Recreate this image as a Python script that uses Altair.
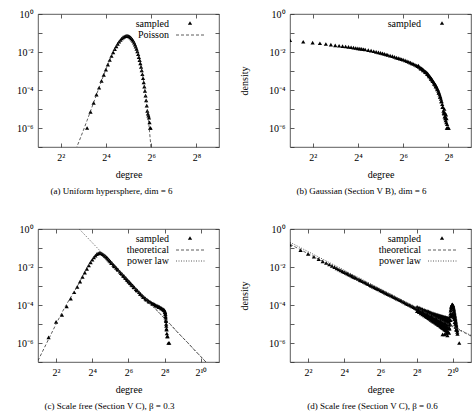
import altair as alt
import pandas as pd

FONT = "Liberation Serif"
W, H = 181, 133

# ---------------- (a) Uniform hypersphere ----------------
A_LINE_DEG = list(range(6, 66))
A_LINE_LOGP = [-7.37, -6.73, -6.14, -5.60, -5.11, -4.66, -4.25, -3.87, -3.52, -3.21,
               -2.92, -2.66, -2.43, -2.21, -2.02, -1.85, -1.70, -1.57, -1.46, -1.37,
               -1.29, -1.23, -1.19, -1.16, -1.15, -1.15, -1.16, -1.19, -1.23, -1.28,
               -1.35, -1.42, -1.51, -1.61, -1.72, -1.84, -1.97, -2.12, -2.27, -2.43,
               -2.60, -2.78, -2.97, -3.17, -3.38, -3.60, -3.82, -4.05, -4.29, -4.54,
               -4.80, -5.06, -5.34, -5.62, -5.90, -6.20, -6.50, -6.81, -7.12, -7.44]
A_SAMP_DEG = list(range(9, 64))
A_SAMP_LOGP = [-6.00, -5.15, -4.68, -4.24, -3.88, -3.52, -3.20,
               -2.93, -2.66, -2.42, -2.21, -2.02, -1.85, -1.70, -1.57, -1.46, -1.37,
               -1.29, -1.23, -1.19, -1.16, -1.15, -1.15, -1.16, -1.19, -1.23, -1.28,
               -1.35, -1.42, -1.51, -1.61, -1.72, -1.84, -1.97, -2.12, -2.27, -2.43,
               -2.60, -2.78, -2.97, -3.17, -3.38, -3.60, -3.82, -4.05, -4.30, -4.55,
               -4.82, -5.10, -5.25, -5.35, -5.45, -5.70, -6.00, -6.00]

# ---------------- (b) Gaussian ----------------
B_DEG = [2, 3, 4, 5, 6, 7, 8, 9, 10, 11, 12, 13, 14, 15, 16, 17, 18, 19, 20,
         22, 24, 26, 28, 30, 32, 34, 36, 38, 40,
         43, 46, 49, 52, 55, 58, 61, 64,
         68, 72, 76, 80, 84, 88, 92, 96, 100,
         104, 108, 112, 116, 120, 124, 128, 132, 136, 140, 144, 148, 152, 156, 160,
         164, 168, 172, 176, 180, 184, 188, 192, 196, 200, 204, 208, 212, 216, 220,
         224, 228, 232, 236, 240, 246, 252, 258]
B_LOGP = [-1.38, -1.46, -1.51, -1.54, -1.58, -1.61, -1.65, -1.67, -1.69, -1.71, -1.73, -1.75,
          -1.77, -1.79, -1.81, -1.82, -1.84, -1.855, -1.87,
          -1.90, -1.93, -1.96, -1.99, -2.02, -2.05, -2.07, -2.10, -2.13, -2.15,
          -2.19, -2.22, -2.26, -2.30, -2.32, -2.35, -2.38, -2.40,
          -2.44, -2.48, -2.52, -2.56, -2.60, -2.63, -2.67, -2.71, -2.75,
          -2.78, -2.82, -2.86, -2.90, -2.95, -3.00, -3.04, -3.09, -3.14, -3.22, -3.27, -3.34,
          -3.40, -3.47, -3.54, -3.60, -3.67, -3.73, -3.80, -3.88, -3.96, -4.05, -4.14, -4.24,
          -4.35, -4.47, -4.60, -4.75, -4.90, -5.10, -5.25, -5.40, -5.50, -5.60, -5.70,
          -5.80, -6.00, -6.00]
B_EXTRA_DEG = [102, 110, 118, 126, 134, 142, 150, 158, 166, 174, 182, 190, 198, 206, 214,
               222, 226, 230, 234, 238, 242, 244, 248, 256]
B_EXTRA_LOGP = [-2.72, -2.88, -2.97, -3.06, -3.16, -3.29, -3.41, -3.54, -3.68, -3.82, -3.97,
                -4.15, -4.37, -4.60, -4.90, -5.20, -5.00, -5.20, -5.40, -5.30, -5.50, -6.00,
                -6.00, -6.00]

# ---------------- (c) Scale free, beta = 0.3 ----------------
C_THEO_DEG = [2, 3, 4, 5, 6, 7, 8, 9, 10, 11, 12, 13, 14, 15, 16, 17, 18, 19, 20, 21, 22, 23, 24,
              26, 28, 32, 40, 48, 56, 64, 80, 96, 112, 128,
              160, 200, 256, 320, 400, 512, 640, 800, 1024, 1300]
C_THEO_LOGP = [-6.93, -5.80, -5.00, -4.40, -3.95, -3.60, -3.30, -3.02, -2.75, -2.50, -2.27,
               -2.05, -1.86, -1.70, -1.57, -1.46, -1.37, -1.31, -1.27, -1.25, -1.26, -1.28, -1.32,
               -1.41, -1.51, -1.72, -2.05, -2.30, -2.55, -2.78, -3.10, -3.35, -3.55, -3.72,
               -4.05, -4.35, -4.72, -5.02, -5.37, -5.72, -6.03, -6.37, -6.72, -7.07]
C_POW_DEG = [9.7, 1243]
C_POW_LOGP = [0.0, -7.0]
C_SAMP_DEG = [3, 4, 5, 6, 7, 8, 9, 10, 11, 12, 13, 14, 15, 16, 17, 18, 19, 20, 21, 22, 23, 24,
              25, 26, 27, 28, 29, 30, 31, 32, 34, 36, 38, 40,
              43, 46, 50, 54, 58, 62, 66, 70,
              75, 80, 85, 90, 96, 102, 108, 115, 122, 130, 138, 146, 155, 164, 173, 182, 191, 200,
              210, 220, 230, 240, 250, 256, 260, 263, 266, 269, 272, 275, 278, 282, 286, 295, 305]
C_SAMP_LOGP = [-5.70, -4.89, -4.52, -4.07, -3.66, -3.33, -3.05, -2.77, -2.52, -2.30, -2.10,
               -1.92, -1.76, -1.62, -1.50, -1.40, -1.32, -1.28, -1.26, -1.27, -1.29, -1.33,
               -1.37, -1.41, -1.46, -1.51, -1.56, -1.61, -1.66, -1.71, -1.80, -1.89, -1.97, -2.05,
               -2.15, -2.25, -2.37, -2.48, -2.59, -2.69, -2.78, -2.87,
               -2.97, -3.07, -3.16, -3.24, -3.33, -3.42, -3.50, -3.58, -3.65, -3.72, -3.78, -3.83,
               -3.88, -3.92, -3.96, -4.00, -4.03, -4.07,
               -4.10, -4.14, -4.18, -4.22, -4.26, -4.30, -4.38, -4.50, -4.66, -4.85, -5.10, -5.30,
               -5.50, -5.65, -5.65, -6.00, -6.00]
C_EXTRA_DEG = [33, 37, 42, 48, 52, 56, 60, 64, 68, 72, 78, 88, 100, 112, 125, 140, 160, 180,
               205, 225, 245, 258, 262, 265, 268, 271, 274]
C_EXTRA_LOGP = [-1.78, -1.95, -2.12, -2.33, -2.45, -2.56, -2.66, -2.76, -2.85, -2.94, -3.06,
                -3.22, -3.41, -3.57, -3.71, -3.83, -3.94, -4.03, -4.11, -4.18, -4.26, -4.36,
                -4.45, -4.60, -4.78, -5.00, -5.25]

# ---------------- (d) Scale free, beta = 0.6 ----------------
D_THEO_DEG = [2, 4, 8, 16, 64, 256, 1024, 2048]
D_THEO_LOGP = [-0.80, -1.30, -1.79, -2.27, -3.20, -4.18, -5.15, -5.63]
D_POW_DEG = [2, 2048]
D_POW_LOGP = [-0.70, -5.60]
D_SAMP_DEG = [2, 3, 4, 5, 6, 7, 8, 9, 10, 11, 12, 13, 14, 15, 16, 17, 18, 19, 20, 21, 22, 23, 24, 25,
              27, 29, 30, 32, 34, 36, 38, 40,
              43, 45, 48, 51, 54, 57, 60, 64,
              68, 72, 76, 80, 85, 90, 96, 102, 108, 114, 120, 128,
              136, 144, 152, 160, 170, 180, 192, 204, 215, 228, 240, 250]
D_SAMP_LOGP = [-0.83, -1.11, -1.31, -1.46, -1.59, -1.70, -1.79, -1.87, -1.94, -2.01, -2.07,
               -2.13, -2.18, -2.23, -2.27, -2.31, -2.35, -2.39, -2.42, -2.46, -2.49, -2.52,
               -2.55, -2.58,
               -2.63, -2.68, -2.70, -2.75, -2.79, -2.83, -2.87, -2.90,
               -2.96, -2.99, -3.03, -3.07, -3.11, -3.15, -3.18, -3.23,
               -3.27, -3.31, -3.35, -3.39, -3.43, -3.47, -3.51, -3.55, -3.59, -3.63, -3.66, -3.71,
               -3.75, -3.79, -3.83, -3.87, -3.91, -3.95, -3.99, -4.03, -4.07, -4.11, -4.15, -4.18]
D_HI_DEG = list(range(260, 881, 20))
D_HI_UP = [-4.10, -4.14, -4.18, -4.22, -4.26, -4.29, -4.31, -4.34, -4.37, -4.39, -4.42,
           -4.44, -4.46, -4.48, -4.50, -4.51, -4.53, -4.54, -4.56, -4.57, -4.59, -4.60,
           -4.61, -4.62, -4.63, -4.64, -4.65, -4.66, -4.67, -4.68, -4.69, -4.70]
D_HI_MID = [-4.20, -4.25, -4.30, -4.35, -4.39, -4.43, -4.46, -4.50, -4.53, -4.57, -4.60,
            -4.63, -4.65, -4.68, -4.71, -4.73, -4.76, -4.78, -4.80, -4.83, -4.85, -4.87,
            -4.89, -4.91, -4.93, -4.94, -4.96, -4.98, -5.00, -5.01, -5.03, -5.05]
D_HI_LO = [-4.32, -4.38, -4.44, -4.50, -4.55, -4.60, -4.64, -4.69, -4.73, -4.78, -4.82,
           -4.86, -4.89, -4.93, -4.97, -5.00, -5.03, -5.06, -5.09, -5.13, -5.16, -5.19,
           -5.22, -5.25, -5.28, -5.30, -5.33, -5.36, -5.39, -5.41, -5.44, -5.47]
D_HJ_DEG = list(range(270, 871, 20))
D_HJ_UP = [-4.18, -4.22, -4.26, -4.31, -4.34, -4.38, -4.40, -4.44, -4.47, -4.49, -4.52,
           -4.54, -4.57, -4.59, -4.61, -4.63, -4.65, -4.67, -4.69, -4.71, -4.73, -4.74,
           -4.76, -4.77, -4.78, -4.80, -4.81, -4.83, -4.84, -4.85, -4.87]
D_HJ_LO = [-4.29, -4.35, -4.39, -4.45, -4.49, -4.54, -4.57, -4.62, -4.65, -4.69, -4.72,
           -4.76, -4.79, -4.82, -4.85, -4.88, -4.91, -4.93, -4.96, -4.99, -5.02, -5.04,
           -5.07, -5.09, -5.11, -5.13, -5.16, -5.18, -5.20, -5.22, -5.25]
D_LOW_DEG = [690, 740, 790, 830, 1305]
D_LOW_LOGP = [-5.55, -5.55, -5.50, -5.60, -6.00]
D_SPIKE_DEG = [890, 900, 910, 920, 930, 940, 950, 960, 970, 980, 990, 1000, 1010, 1020, 1030,
               1040, 1050, 1060, 1070, 1080, 1090, 1100, 1110, 1120, 1130, 1140, 1150, 1160,
               1170, 1180, 1190, 1200, 1210, 1220]
D_SPIKE_LOGP = [-5.20, -5.00, -4.80, -4.60, -4.45, -4.30, -4.20, -4.12, -4.06, -4.02, -3.99,
                -3.97, -3.98, -4.00, -4.04, -4.09, -4.15, -4.22, -4.29, -4.36, -4.44, -4.52,
                -4.60, -4.68, -4.76, -4.84, -4.92, -5.00, -5.08, -5.16, -5.24, -5.33, -5.42,
                -5.52]
D_SPIKE2_DEG = [900, 920, 940, 960, 980, 1000, 1020, 1040, 1060, 1080, 1100, 1120, 1140, 1160]
D_SPIKE2_LOGP = [-5.25, -5.00, -4.80, -4.60, -4.50, -4.45, -4.50, -4.55, -4.65, -4.75, -4.90,
                 -5.00, -5.15, -5.30]

CAPTIONS = ["(a) Uniform hypersphere, dim = 6",
            "(b) Gaussian (Section V B), dim = 6",
            "(c) Scale free (Section V C), \u03b2 = 0.3",
            "(d) Scale free (Section V C), \u03b2 = 0.6"]


def df(deg, logp):
    return pd.DataFrame({"degree": deg, "logp": logp})


XLABEL = ("datum.value == 4 ? '2\u00b2' : datum.value == 16 ? '2\u2074' : "
          "datum.value == 64 ? '2\u2076' : datum.value == 256 ? '2\u2078' : "
          "datum.value == 1024 ? '2\u00b9\u2070' : ''")
YLABEL = ("datum.value == 0 ? '10\u2070' : datum.value == -2 ? '10\u207b\u00b2' : "
          "datum.value == -4 ? '10\u207b\u2074' : datum.value == -6 ? '10\u207b\u2076' : ''")

DASHED = [3, 2]
DOTTED = [1, 1.5]
MSIZE = 18


def panel(points, lines, legend, xmax, xvals, ytitle, caption, cap_dx, anchor=False):
    xscale = alt.Scale(type="log", base=2, domain=[2, xmax], nice=False)
    yscale = alt.Scale(domain=[-7, 0], nice=False, zero=False)
    xaxis = alt.Axis(values=xvals, labelExpr=XLABEL, title="degree", grid=True,
                     gridDash=[4, H - 8], titlePadding=7)
    if ytitle:
        yaxis = alt.Axis(values=list(range(-7, 1)), labelExpr=YLABEL, title="density",
                         grid=True, gridDash=[4, W - 8], titlePadding=19)
    else:
        yaxis = alt.Axis(values=list(range(-7, 1)), labelExpr=YLABEL, title=None,
                         grid=True, gridDash=[4, W - 8])
    enc = dict(x=alt.X("degree:Q", scale=xscale, axis=xaxis),
               y=alt.Y("logp:Q", scale=yscale, axis=yaxis))
    layers = [
        alt.Chart(points).mark_point(shape="triangle-up", filled=True, size=MSIZE,
                                     color="black", opacity=1, clip=True).encode(**enc)
    ]
    for ldf, dash in lines:
        layers.append(alt.Chart(ldf).mark_line(color="#333", strokeWidth=0.8,
                                               strokeDash=dash, clip=True).encode(**enc))
    # gnuplot-style key: text right aligned, sample to its right
    names = ["sampled"] + [n for n, _ in legend]
    for i, name in enumerate(names):
        layers.append(alt.Chart(pd.DataFrame({"t": [name]})).mark_text(
            align="right", baseline="middle", font=FONT, fontSize=10, color="black").encode(
            x=alt.value(131), y=alt.value(10 + 11 * i), text="t:N"))
    layers.append(alt.Chart(pd.DataFrame({"t": ["sampled"]})).mark_point(
        shape="triangle-up", filled=True, size=MSIZE, color="black", opacity=1).encode(
        x=alt.value(152), y=alt.value(9)))
    for i, (name, dash) in enumerate(legend):
        layers.append(alt.Chart(pd.DataFrame({"t": [name]})).mark_rule(
            color="#333", strokeWidth=0.8, strokeDash=dash).encode(
            x=alt.value(138), x2=alt.value(167), y=alt.value(21 + 11 * i)))
    if anchor:
        layers.append(alt.Chart(pd.DataFrame({"t": ["."]})).mark_text(
            opacity=0, align="left", baseline="top", fontSize=4).encode(
            x=alt.value(-37), y=alt.value(-13), text="t:N"))
    return alt.layer(*layers).properties(
        width=W, height=H,
        title=alt.TitleParams(caption, orient="bottom", anchor="middle", font=FONT,
                              fontSize=9, fontWeight="normal", color="black",
                              offset=8, dx=cap_dx))


pa = panel(df(A_SAMP_DEG, A_SAMP_LOGP), [(df(A_LINE_DEG, A_LINE_LOGP), DASHED)],
           [("Poisson", DASHED)],
           512, [4, 16, 64, 256], False, CAPTIONS[0], -17, anchor=True)
pb = panel(pd.concat([df(B_DEG, B_LOGP), df(B_EXTRA_DEG, B_EXTRA_LOGP)]), [], [],
           512, [4, 16, 64, 256], True, CAPTIONS[1], -19)
pc = panel(pd.concat([df(C_SAMP_DEG, C_SAMP_LOGP), df(C_EXTRA_DEG, C_EXTRA_LOGP)]),
           [(df(C_THEO_DEG, C_THEO_LOGP), DASHED), (df(C_POW_DEG, C_POW_LOGP), DOTTED)],
           [("theoretical", DASHED), ("power law", DOTTED)],
           2048, [4, 16, 64, 256, 1024], False, CAPTIONS[2], -19)
pd_points = pd.concat([
    df(D_SAMP_DEG, D_SAMP_LOGP), df(D_HI_DEG, D_HI_UP), df(D_HI_DEG, D_HI_MID),
    df(D_HI_DEG, D_HI_LO), df(D_HJ_DEG, D_HJ_UP), df(D_HJ_DEG, D_HJ_LO),
    df(D_LOW_DEG, D_LOW_LOGP), df(D_SPIKE_DEG, D_SPIKE_LOGP), df(D_SPIKE2_DEG, D_SPIKE2_LOGP)])
pdd = panel(pd_points,
            [(df(D_THEO_DEG, D_THEO_LOGP), DASHED), (df(D_POW_DEG, D_POW_LOGP), DOTTED)],
            [("theoretical", DASHED), ("power law", DOTTED)],
            2048, [4, 16, 64, 256, 1024], True, CAPTIONS[3], -8)

chart = alt.concat(pa, pb, pc, pdd, columns=2, spacing={"row": 82, "column": 71},
                   bounds="flush").properties(
    padding={"left": 0, "top": 0, "right": 0, "bottom": 0}
).configure_view(stroke="#333", strokeWidth=0.8).configure_axis(
    labelFont=FONT, labelFontSize=10, labelColor="black", labelPadding=5,
    titleFont=FONT, titleFontSize=10, titleFontWeight="normal", titleColor="black",
    domain=False, ticks=False, gridColor="#333", gridWidth=0.8, gridOpacity=1
)

chart.save("out.html", embed_options={"renderer": "svg", "actions": False})
